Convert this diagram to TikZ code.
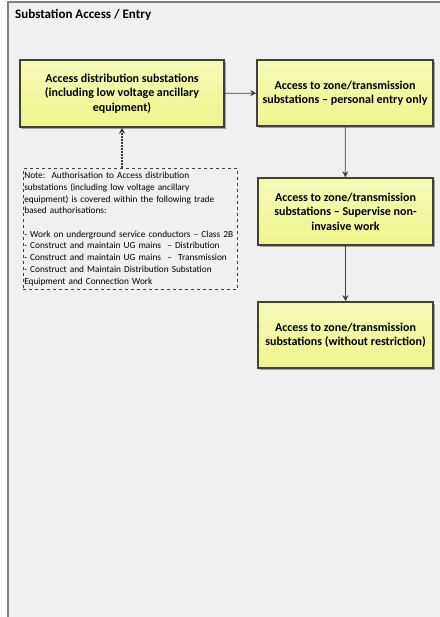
\documentclass[tikz,border=0pt]{standalone}
\usepackage{fontspec}
\setmainfont{Carlito}
\usetikzlibrary{arrows.meta,shadows}
\definecolor{panelgrey}{HTML}{F0F0F0}
\definecolor{framegrey}{HTML}{808080}
\definecolor{edgegrey}{HTML}{404040}
\definecolor{paleyellow}{HTML}{F6FAB8}
\definecolor{deepyellow}{HTML}{EEF58C}
\tikzset{
	stagenode/.style={draw=edgegrey, line width=1.5pt, top color=paleyellow, bottom color=deepyellow,
		align=center, inner sep=2pt, font=\bfseries\fontsize{12}{14.5}\selectfont,
		drop shadow={shadow xshift=1.8pt, shadow yshift=-1.8pt, fill=gray!80, opacity=0.9}},
	notenode/.style={draw=edgegrey, dashed, line width=0.6pt, fill=panelgrey, align=left,
		inner xsep=1pt, inner ysep=4pt, anchor=north west, text width=212pt, font=\fontsize{9.3}{11.7}\selectfont},
	flow/.style={draw=edgegrey, line width=0.8pt, -{Stealth[length=6pt,width=6pt]}},
}
\newcommand{\stagebox}[6]{\node[stagenode, minimum width=#3, minimum height=#4] (#1) at (#2) {#5}}

\begin{document}
\begin{tikzpicture}[x=1pt,y=1pt]
	\useasboundingbox (0,0) rectangle (439,-617);
	\fill[white] (0,0) rectangle (439,-617);
	\fill[panelgrey] (8,-630) rectangle (445,-2);
	\draw[framegrey, line width=1.2pt] (8,-630) -- (8,-2) -- (445,-2);
	\node[anchor=west, inner sep=0pt, font=\bfseries\fontsize{13}{15}\selectfont] (title) at (15,-15) {Substation Access / Entry};
	\stagebox{dist}{122,-93.5}{204pt}{67pt}{Access distribution substations\\(including low voltage ancillary\\equipment)}{};
	\stagebox{entry}{345,-93}{176pt}{66pt}{Access to zone/transmission\\substations -- personal entry only}{};
	\stagebox{supervise}{345.5,-211.5}{175pt}{67pt}{Access to zone/transmission\\substations -- Supervise non-\\invasive work}{};
	\stagebox{full}{345.5,-335}{175pt}{66pt}{Access to zone/transmission\\substations (without restriction)}{};
	\node[notenode] (note) at (23,-168) {Note:\ \ Authorisation to Access distribution\\
	substations (including low voltage ancillary\\
	equipment) is covered within the following trade\\
	based authorisations:\\[11.7pt]
	- Work on underground service conductors -- Class 2B\\
	- Construct and maintain UG mains \ -- Distribution\\
	- Construct and maintain UG mains \ -- \ Transmission\\
	- Construct and Maintain Distribution Substation\\
	Equipment and Connection Work};
	\draw[flow] (dist) -- (entry);
	\draw[flow] (entry) -- (supervise);
	\draw[flow] (supervise) -- (full);
	\draw[flow, dashed, line width=1.6pt, dash pattern=on 2pt off 1pt] (dist.south |- note.north) -- (dist.south);
\end{tikzpicture}
\end{document}
